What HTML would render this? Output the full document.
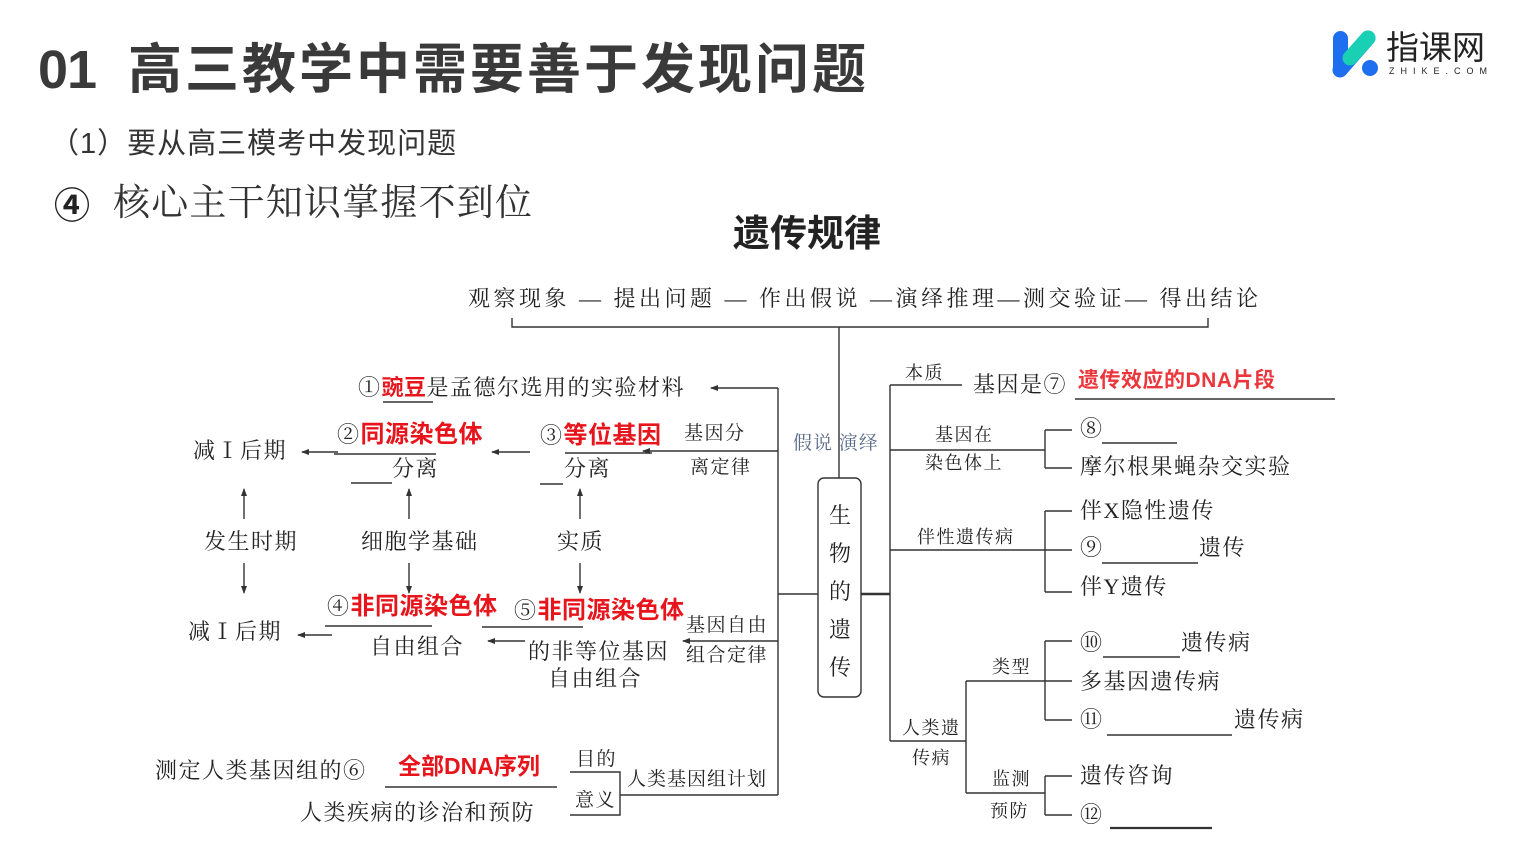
<!DOCTYPE html>
<html><head><meta charset="utf-8"><style>
body{margin:0;width:1517px;height:851px;background:#fff;position:relative;overflow:hidden;font-family:"Liberation Serif","Noto Serif CJK SC",serif;color:#222}
.t{position:absolute;white-space:nowrap;line-height:1}
.s{font-size:22px;letter-spacing:1.5px}
.r{color:#e8141b;font-family:"Liberation Sans","Noto Sans CJK SC",sans-serif;font-weight:bold;font-size:24px;letter-spacing:0.5px}
.sans{font-family:"Liberation Sans","Noto Sans CJK SC",sans-serif}
svg{position:absolute;left:0;top:0}
</style></head><body>
<svg width="1517" height="851" stroke="#333" stroke-width="1.4" fill="none">
<defs><marker id="a" markerWidth="8" markerHeight="8" refX="7" refY="4" orient="auto" markerUnits="userSpaceOnUse"><path d="M0,1 L8,4 L0,7 z" fill="#333" stroke="none"/></marker></defs>
<path d="M512,318 V327 H1208 V318 M839,327 V478"/>
<rect x="818" y="478" width="43" height="219" rx="6"/>
<path d="M778,388 V795 M778,594 H818"/>
<path d="M861,594 H890" stroke-width="2.4"/>
<path d="M890,385 V741 M890,385 H962 M890,450 H1045 M1045,430 V468 M1045,430 H1072 M1045,468 H1072 M1075,399 H1335"/>
<path d="M890,550 H1072 M1045,511 V592 M1045,511 H1072 M1045,592 H1072"/>
<path d="M890,741 H966 M966,681 V793 M966,681 H1072 M1045,641 V720 M1045,641 H1072 M1045,720 H1072 M966,793 H1045 M1045,776 V815 M1045,776 H1072 M1045,815 H1072"/>
<path d="M1102,443 H1177 M1102,563 H1198 M1103,657 H1180 M1107,735 H1232"/>
<path d="M1110,828 H1212" stroke-width="2.2"/>
<path d="M778,388 H711" marker-end="url(#a)"/>
<path d="M778,451 H643" marker-end="url(#a)"/>
<path d="M530,452 H492" marker-end="url(#a)"/>
<path d="M338,452 H302" marker-end="url(#a)"/>
<path d="M778,641 H683" marker-end="url(#a)"/>
<path d="M525,641 H488" marker-end="url(#a)"/>
<path d="M332,635 H298" marker-end="url(#a)"/>
<path d="M244,519 V489" marker-end="url(#a)"/>
<path d="M409,519 V489" marker-end="url(#a)"/>
<path d="M580,519 V489" marker-end="url(#a)"/>
<path d="M244,563 V593" marker-end="url(#a)"/>
<path d="M409,563 V593" marker-end="url(#a)"/>
<path d="M580,563 V593" marker-end="url(#a)"/>
<path d="M383,402 H433 M565,453 H652 M540,484 H563 M334,454 H436 M351,483 H392 M325,626 H432 M482,627 H583"/>
<path d="M385,787 H557 M570,772 H620 V815 H570 M620,795 H778"/>
</svg>

<div class="t sans" style="left:38px;top:43px;font-size:54px;color:#3a3a3a;font-weight:bold;letter-spacing:-1px">01</div>
<div class="t sans" style="left:128px;top:43px;font-size:54px;color:#3a3a3a;font-weight:bold;letter-spacing:3px">高三教学中需要善于发现问题</div>
<div class="t sans" style="left:50px;top:130px;font-size:29px;color:#333;letter-spacing:1px">（1）要从高三模考中发现问题</div>
<div class="t sans" style="left:54px;top:188px;font-size:36px;color:#222;font-weight:bold">④</div>
<div class="t" style="left:113px;top:185px;font-size:37px;color:#333;letter-spacing:1.2px">核心主干知识掌握不到位</div>
<div class="t sans" style="left:733px;top:215px;font-size:37px;font-weight:bold;color:#222">遗传规律</div>

<svg width="1517" height="851" stroke="none">
<rect x="1333" y="31" width="15" height="46" rx="7.5" fill="#1e6ef0"/>
<path d="M1340,70 L1368,38" stroke="#1e6ef0" stroke-width="15" stroke-linecap="round"/>
<path d="M1350,58 L1368,38" stroke="#19d0b4" stroke-width="15" stroke-linecap="round"/>
<circle cx="1370" cy="68" r="8" fill="#1e6ef0"/>
</svg>
<div class="t sans" style="left:1386px;top:31px;font-size:33px;color:#222">指课网</div>
<div class="t sans" style="left:1389px;top:67px;font-size:9px;letter-spacing:6px;color:#222">ZHIKE.COM</div>

<div class="t" style="left:468px;top:288px;font-size:22px;letter-spacing:3.5px">观察现象 — 提出问题 — 作出假说 —演绎推理—测交验证— 得出结论</div>

<div class="t s" style="left:358px;top:377px;font-size:22px">①<span class="r" style="font-size:22px">豌豆</span>是孟德尔选用的实验材料</div>
<div class="t s" style="left:684px;top:424px;font-size:19px">基因分</div>
<div class="t s" style="left:690px;top:458px;font-size:19px">离定律</div>
<div class="t s" style="left:540px;top:424px">③<span class="r">等位基因</span></div>
<div class="t s" style="left:564px;top:458px">分离</div>
<div class="t s" style="left:337px;top:423px">②<span class="r">同源染色体</span></div>
<div class="t s" style="left:392px;top:458px">分离</div>
<div class="t s" style="left:193px;top:440px">减Ⅰ后期</div>
<div class="t s" style="left:204px;top:531px">发生时期</div>
<div class="t s" style="left:361px;top:531px">细胞学基础</div>
<div class="t s" style="left:557px;top:531px">实质</div>
<div class="t s" style="left:327px;top:595px">④<span class="r">非同源染色体</span></div>
<div class="t s" style="left:514px;top:599px">⑤<span class="r">非同源染色体</span></div>
<div class="t s" style="left:370px;top:636px">自由组合</div>
<div class="t s" style="left:528px;top:641px">的非等位基因</div>
<div class="t s" style="left:548px;top:668px">自由组合</div>
<div class="t s" style="left:686px;top:616px;font-size:19px">基因自由</div>
<div class="t s" style="left:686px;top:646px;font-size:19px">组合定律</div>
<div class="t s" style="left:188px;top:621px">减Ⅰ后期</div>

<div class="t s" style="left:155px;top:760px">测定人类基因组的⑥</div>
<div class="t r" style="left:398px;top:755px;font-size:23px;letter-spacing:0">全部DNA序列</div>
<div class="t s" style="left:300px;top:802px">人类疾病的诊治和预防</div>
<div class="t s" style="left:576px;top:750px;font-size:19px">目的</div>
<div class="t s" style="left:575px;top:791px;font-size:19px">意义</div>
<div class="t s" style="left:627px;top:770px;font-size:19px;letter-spacing:1px">人类基因组计划</div>

<div class="t s" style="left:793px;top:434px;font-size:19px;color:#5a6a8a;letter-spacing:1px">假说 演绎</div>
<div class="t" style="left:828px;top:497px;font-size:22px;line-height:38px;width:24px;text-align:center">生<br>物<br>的<br>遗<br>传</div>

<div class="t s" style="left:905px;top:364px;font-size:18px">本质</div>
<div class="t s" style="left:973px;top:374px">基因是⑦</div>
<div class="t r" style="left:1078px;top:370px;font-size:21px;opacity:0.85">遗传效应的DNA片段</div>
<div class="t s" style="left:935px;top:426px;font-size:18px">基因在</div>
<div class="t s" style="left:925px;top:454px;font-size:18px">染色体上</div>
<div class="t s" style="left:1080px;top:418px">⑧</div>
<div class="t s" style="left:1080px;top:456px">摩尔根果蝇杂交实验</div>
<div class="t s" style="left:917px;top:528px;font-size:18px">伴性遗传病</div>
<div class="t s" style="left:1080px;top:500px">伴X隐性遗传</div>
<div class="t s" style="left:1080px;top:537px">⑨</div>
<div class="t s" style="left:1199px;top:537px">遗传</div>
<div class="t s" style="left:1080px;top:576px">伴Y遗传</div>
<div class="t s" style="left:992px;top:658px;font-size:18px">类型</div>
<div class="t s" style="left:902px;top:719px;font-size:18px">人类遗</div>
<div class="t s" style="left:912px;top:749px;font-size:18px">传病</div>
<div class="t s" style="left:1080px;top:632px">⑩</div>
<div class="t s" style="left:1181px;top:632px">遗传病</div>
<div class="t s" style="left:1080px;top:671px">多基因遗传病</div>
<div class="t s" style="left:1080px;top:709px">⑪</div>
<div class="t s" style="left:1234px;top:709px">遗传病</div>
<div class="t s" style="left:992px;top:770px;font-size:18px">监测</div>
<div class="t s" style="left:990px;top:802px;font-size:18px">预防</div>
<div class="t s" style="left:1080px;top:765px">遗传咨询</div>
<div class="t s" style="left:1080px;top:804px">⑫</div>
</body></html>
